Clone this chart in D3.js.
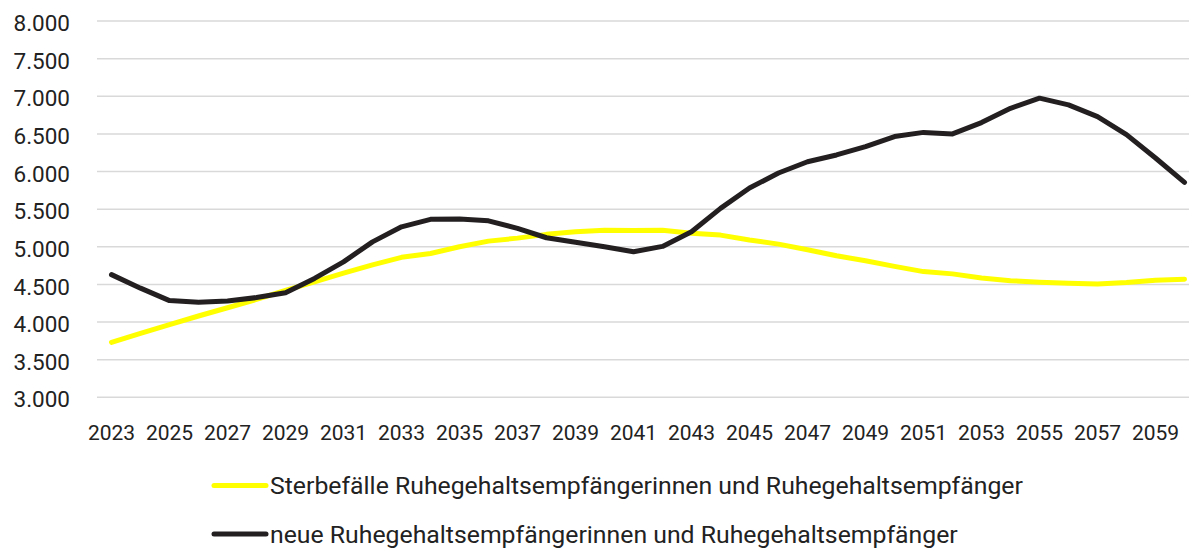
<!DOCTYPE html>
<html>
<head>
<meta charset="utf-8">
<script src="https://cdn.jsdelivr.net/npm/d3@7"></script>
<style>
  body { margin: 0; background: #fff; }
  svg { display: block; font-family: Roboto, "Liberation Sans", sans-serif; }
</style>
</head>
<body>
<div id="chart"></div>
<script>
var years = d3.range(2023, 2061);
var sterbefaelle = [3730, 3850, 3965, 4080, 4190, 4300, 4420, 4535, 4650, 4760, 4860,
  4910, 5000, 5075, 5115, 5165, 5200, 5220, 5215, 5220, 5180, 5155, 5090, 5035,
  4960, 4880, 4815, 4740, 4670, 4640, 4585, 4550, 4530, 4515, 4505, 4525, 4555, 4570];
var neue = [4630, 4450, 4285, 4263, 4280, 4325, 4390, 4580, 4800, 5065, 5265,
  5365, 5370, 5345, 5245, 5120, 5060, 5000, 4935, 5005, 5200, 5510, 5780, 5980,
  6130, 6220, 6330, 6465, 6520, 6500, 6650, 6840, 6975, 6885, 6730, 6490, 6180, 5855];
var yTicks = [3000, 3500, 4000, 4500, 5000, 5500, 6000, 6500, 7000, 7500, 8000];
var xLabels = years.filter(function(d){ return (d - 2023) % 2 === 0; });
var seriesNames = ["Sterbefälle Ruhegehaltsempfängerinnen und Ruhegehaltsempfänger",
  "neue Ruhegehaltsempfängerinnen und Ruhegehaltsempfänger"];
var colors = ["#ffff00", "#231f20"];

var W = 1189, H = 548;
var svg = d3.select("#chart").append("svg").attr("width", W).attr("height", H);

var x = d3.scaleBand().domain(years).range([97, 1199]).padding(0);
var y = d3.scaleLinear().domain([3000, 8000]).range([397.3, 21]);
var fmt = function(v){ return d3.format(",.0f")(v).replace(/,/g, "."); };

// gridlines
svg.selectAll("line.grid")
  .data(yTicks)
  .enter()
  .append("line")
  .attr("class", "grid")
  .attr("x1", 97)
  .attr("x2", W)
  .attr("y1", function(d){ return y(d); })
  .attr("y2", function(d){ return y(d); })
  .attr("stroke", "#d9d9d9")
  .attr("stroke-width", 1.5);

// y labels
svg.selectAll("text.ylab")
  .data(yTicks)
  .enter()
  .append("text")
  .attr("class", "ylab")
  .attr("x", 70)
  .attr("y", function(d){ return y(d) + 2; })
  .attr("dy", "0.36em")
  .attr("text-anchor", "end")
  .attr("font-size", 22.5)
  .attr("fill", "#222")
  .text(fmt);

// x labels
svg.selectAll("text.xlab")
  .data(xLabels)
  .enter()
  .append("text")
  .attr("class", "xlab")
  .attr("x", function(d){ return x(d) + x.bandwidth() / 2; })
  .attr("y", 440)
  .attr("text-anchor", "middle")
  .attr("font-size", 21)
  .attr("fill", "#222")
  .text(function(d){ return d; });

var line = d3.line()
  .x(function(d, i){ return x(years[i]) + x.bandwidth() / 2; })
  .y(function(d){ return y(d); });

[sterbefaelle, neue].forEach(function(s, i){
  svg.append("path")
    .datum(s)
    .attr("d", line)
    .attr("fill", "none")
    .attr("stroke", colors[i])
    .attr("stroke-width", 5)
    .attr("stroke-linejoin", "round")
    .attr("stroke-linecap", "round");
});

// legend
var leg = svg.selectAll("g.leg")
  .data(seriesNames)
  .enter()
  .append("g")
  .attr("class", "leg")
  .attr("transform", function(d, i){ return "translate(0," + (485.5 + i * 48.5) + ")"; });
leg.append("line")
  .attr("x1", 214).attr("x2", 266)
  .attr("stroke", function(d, i){ return colors[i]; })
  .attr("stroke-width", 5)
  .attr("stroke-linecap", "round");
leg.append("text")
  .attr("x", 270)
  .attr("dy", "0.35em")
  .attr("font-size", 24.8)
  .attr("fill", "#222")
  .text(function(d){ return d; });
</script>
</body>
</html>
